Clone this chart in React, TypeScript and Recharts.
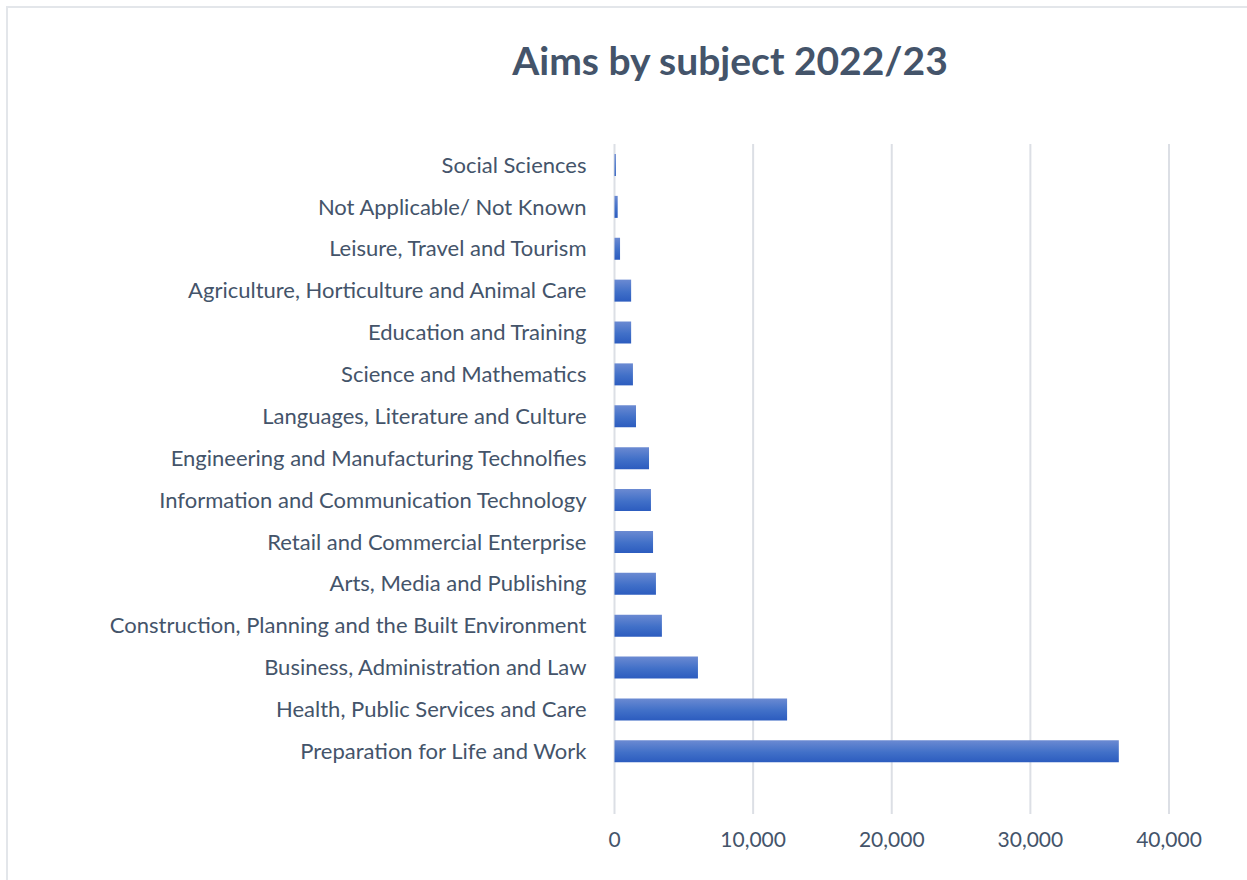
import { Bar, BarChart, CartesianGrid, XAxis, YAxis } from "recharts";

// Horizontal bar chart, Excel look: light frame, bold title, vertical gridlines,
// gradient blue bars. Order is top to bottom; the trailing blank row mirrors
// the empty slot Excel leaves under the last bar.

const subjects = [
  "Social Sciences",
  "Not Applicable/ Not Known",
  "Leisure, Travel and Tourism",
  "Agriculture, Horticulture and Animal Care",
  "Education and Training",
  "Science and Mathematics",
  "Languages, Literature and Culture",
  "Engineering and Manufacturing Technolfies",
  "Information and Communication Technology",
  "Retail and Commercial Enterprise",
  "Arts, Media and Publishing",
  "Construction, Planning and the Built Environment",
  "Business, Administration and Law",
  "Health, Public Services and Care",
  "Preparation for Life and Work",
  "",
];

const aims = [
  100, 230, 400, 1200, 1200, 1330, 1550, 2490, 2630, 2780, 2990, 3420, 6020,
  12450, 36380, null,
];

const xTicks = [0, 10000, 20000, 30000, 40000];

const data = subjects.map((name, i) => ({ name, aims: aims[i] }));

const TEXT = "#44546a";
const FONT = "Lato, 'Noto Sans', sans-serif";

export default function App() {
  return (
    <div
      style={{
        position: "absolute",
        left: 0,
        top: 0,
        width: 1247,
        height: 880,
        overflow: "hidden",
        background: "#fff",
        fontFamily: FONT,
      }}
    >
      <div
        style={{
          position: "absolute",
          left: 6,
          top: 6,
          width: 1400,
          height: 1000,
          borderLeft: "2px solid #e3e6ea",
          borderTop: "2px solid #e3e6ea",
        }}
      />
      <div
        style={{
          position: "absolute",
          left: 430,
          width: 600,
          top: 35,
          textAlign: "center",
          fontSize: 39,
          fontWeight: 700,
          color: TEXT,
          lineHeight: "50px",
        }}
      >
        Aims by subject 2022/23
      </div>
      <div style={{ position: "absolute", left: 0, top: 0 }}>
        <BarChart
          width={1247}
          height={880}
          data={data}
          layout="vertical"
          margin={{ top: 144, right: 78, bottom: 0, left: 0 }}
          barSize={22}
        >
          <defs>
            <linearGradient id="barFill" x1="0" y1="0" x2="0" y2="1">
              <stop offset="0%" stopColor="#6b8ad2" />
              <stop offset="55%" stopColor="#4170c8" />
              <stop offset="100%" stopColor="#2c5cbf" />
            </linearGradient>
          </defs>
          <CartesianGrid
            horizontal={false}
            stroke="#dcdfe5"
            strokeWidth={2}
          />
          <XAxis
            type="number"
            domain={[0, 40000]}
            ticks={xTicks}
            tickFormatter={(v: number) => v.toLocaleString("en-US")}
            axisLine={false}
            tickLine={false}
            tickSize={0}
            tickMargin={18}
            height={66}
            tick={{ fill: TEXT, fontSize: 21, fontFamily: FONT }}
          />
          <YAxis
            type="category"
            dataKey="name"
            width={614.5}
            axisLine={false}
            tickLine={false}
            tickSize={0}
            tickMargin={28}
            interval={0}
            tick={{ fill: TEXT, fontSize: 22, fontFamily: FONT }}
          />
          <Bar dataKey="aims" fill="url(#barFill)" isAnimationActive={false} />
        </BarChart>
      </div>
    </div>
  );
}
